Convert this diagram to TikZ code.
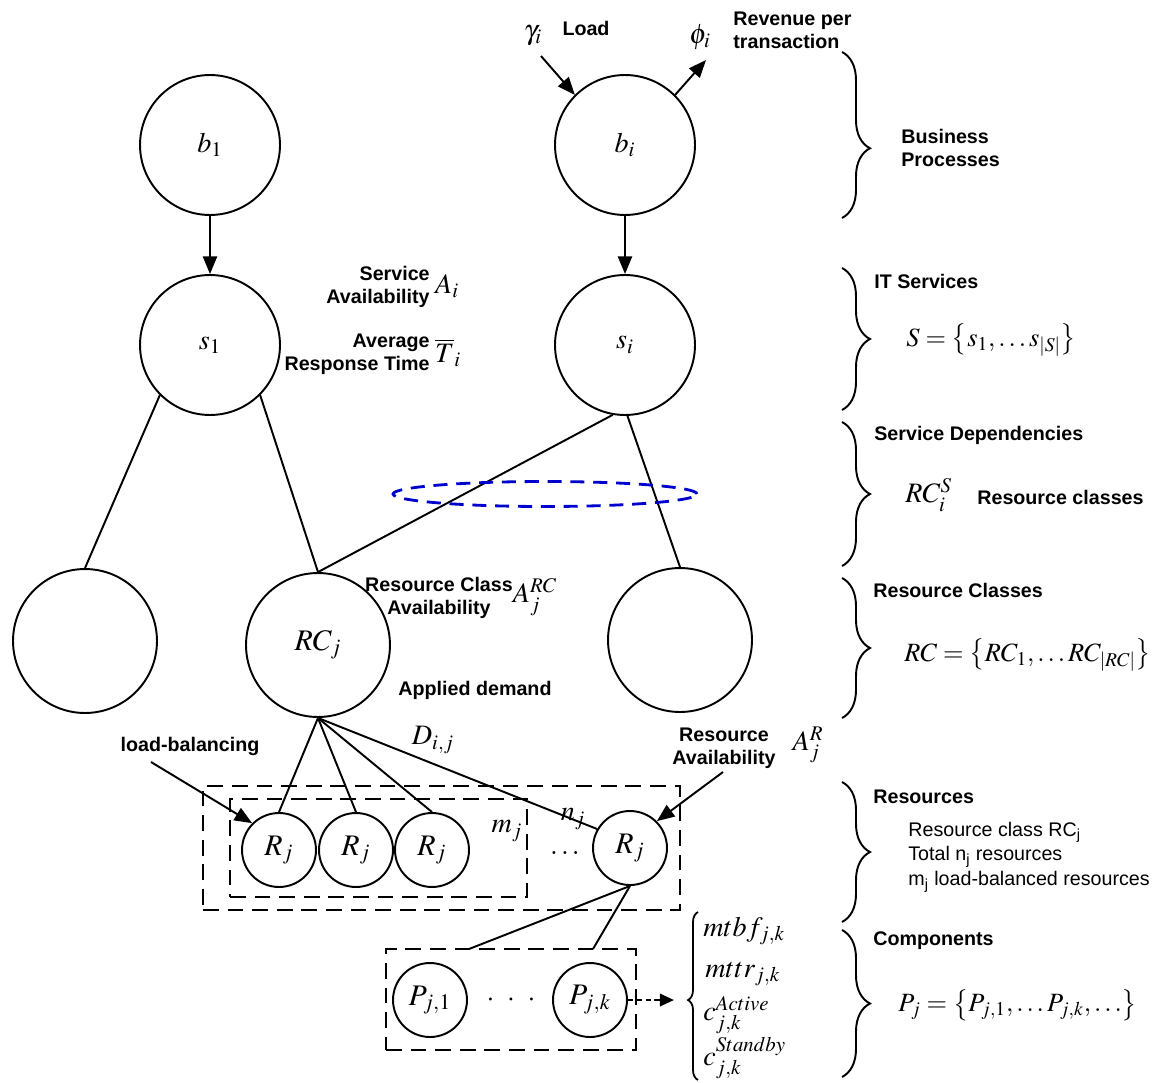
\documentclass[tikz,border=0pt]{standalone}
\usepackage{mathptmx}
\usepackage[no-math]{fontspec}
\setmainfont{Liberation Sans}
\usetikzlibrary{arrows.meta,decorations.pathreplacing,shapes.geometric}

\tikzset{
  every node/.style={inner sep=0pt},
  bigc/.style={circle,draw,line width=1.1pt,minimum size=2.8cm,font=\fontsize{16}{18}\selectfont},
  rcc/.style={circle,draw,line width=1.1pt,minimum size=2.88cm,font=\fontsize{17}{19}\selectfont},
  resc/.style={circle,draw,line width=1.1pt,minimum size=1.48cm,font=\fontsize{17}{19}\selectfont},
  link/.style={line width=1.1pt},
  arr/.style={line width=1.1pt,-{Triangle[length=10pt,width=8pt]}},
  dotarr/.style={line width=1.4pt,dash pattern=on 3pt off 2pt,-{Triangle[length=8pt,width=7pt]}},
  dbox/.style={draw,rectangle,line width=1.5pt,dash pattern=on 9pt off 5pt},
  lbl/.style={font=\fontsize{11.2}{13}\selectfont\bfseries},
  plain/.style={font=\fontsize{11.2}{14}\selectfont},
  mth/.style={font=\fontsize{16}{18}\selectfont},
  setm/.style={font=\fontsize{15}{17}\selectfont},
  brc/.style={decorate,decoration={brace,amplitude=0.56cm,aspect=#1},line width=1.1pt},
  brc/.default=0.5,
  smallbrc/.style={decorate,decoration={brace,amplitude=0.2cm,aspect=0.476},line width=1pt},
  grp/.style={ellipse,draw=blue!80!black,line width=1.6pt,dash pattern=on 8pt off 5pt,minimum width=6.08cm,minimum height=0.5cm}
}

\begin{document}
\begin{tikzpicture}[x=0.02cm,y=-0.02cm]
\useasboundingbox (0,0) rectangle (1163,1082);

% business processes and services
\node[bigc] (b1) at (210,145) {$b_1$};
\node[bigc] (bi) at (625,145) {$b_i$};
\node[bigc] (s1) at (210,345) {$s_1$};
\node[bigc] (si) at (625,345) {$s_i$};
\draw[arr] (b1) -- (s1);
\draw[arr] (bi) -- (si);

% load and revenue
\node[mth] (gam) at (533,36) {$\gamma_i$};
\node[lbl] (load) at (586,28) {Load};
\node[mth] (phi) at (700,37) {$\phi_i$};
\node[lbl,anchor=west,align=left] (rev) at (733,30) {Revenue per\\transaction};
\coordinate (gtail) at (541,56);
\coordinate (phead) at (706,60);
\draw[arr] (gtail) -- (bi.135);
\draw[arr] (bi.45) -- (phead);

% service metrics
\node[lbl,anchor=east,align=right] (svcav) at (430,287) {Service\\Availability};
\node[mth] (ai) at (447,286) {$A_i$};
\node[lbl,anchor=east,align=right] (avgrt) at (430,354) {Average\\Response Time};
\node[mth] (ti) at (448,353) {$\overline{T}_i$};

% resource classes
\node[rcc] (lrc) at (85,641) {};
\node[rcc] (rcj) at (318,645) {$RC_j$};
\node[rcc] (rrc) at (680,640) {};
\draw[link] (s1.225) -- (lrc.north);
\draw[link] (s1.315) -- (rcj.north);
\draw[link] (si.260) -- (rcj.north);
\draw[link] (si.272) -- (rrc.north);
\node[grp] (dep) at (545,494) {};

\node[lbl,align=center] (rcav) at (439,598) {Resource Class\\Availability};
\node[mth] (arc) at (535,597) {$A_j^{RC}$};
\node[lbl] (demand) at (475,690) {Applied demand};

% resources
\node[dbox,minimum width=9.54cm,minimum height=2.48cm] (nbox) at (441.5,848) {};
\node[dbox,minimum width=5.94cm,minimum height=1.96cm] (mbox) at (378.5,848) {};
\node[resc] (r1) at (279,850) {$R_j$};
\node[resc] (r2) at (356,850) {$R_j$};
\node[resc] (r3) at (432,850) {$R_j$};
\node[resc] (r4) at (630,848) {$R_j$};
\node[mth] (rdots) at (565,853) {$\ldots$};
\draw[link] (rcj.south) -- (r1.north);
\draw[link] (rcj.south) -- (r2.north);
\draw[link] (rcj.south) -- (r3.north);
\draw[link] (rcj.south) -- (r4.150);
\node[mth] (dij) at (433,740) {$D_{i,j}$};
\node[mth] (mj) at (507,831) {$m_j$};
\node[mth] (nj) at (573,819) {$n_j$};

\node[lbl] (lb) at (190,746) {load-balancing};
\coordinate (lbt) at (151,762);
\draw[arr] (lbt) -- (r1.135);
\node[lbl,align=center] (rav) at (724,748) {Resource\\Availability};
\node[mth] (ar) at (808,745) {$A_j^R$};
\coordinate (rat) at (723,772);
\draw[arr] (rat) -- (r4.45);

% components
\node[dbox,minimum width=5cm,minimum height=2.02cm] (pbox) at (511,999.5) {};
\node[resc] (p1) at (430,1000) {$P_{j,1}$};
\node[resc] (pk) at (590,1000) {$P_{j,k}$};
\node[mth] (pdots) at (511,1000) {$\cdot\hspace{5pt}\cdot\hspace{5pt}\cdot$};
\coordinate (pa) at (469,949);
\coordinate (pb) at (593,949);
\draw[link] (r4.south) -- (pa);
\draw[link] (r4.south) -- (pb);
\coordinate (ptip) at (674,1000);
\draw[dotarr] (pk.east) -- (ptip);

\draw[smallbrc] (698,1080) -- (698,912);
\node[mth,anchor=west] (mtbf) at (703,931) {$mtbf_{j,k}$};
\node[mth,anchor=west] (mttr) at (705,974) {$mttr_{j,k}$};
\node[mth,anchor=west] (cact) at (703,1015) {$c^{Active}_{j,k}$};
\node[mth,anchor=west] (csb) at (703,1058) {$c^{Standby}_{j,k}$};

% layer braces
\draw[brc=0.58] (842,52) -- (842,218);
\draw[brc] (842,268) -- (842,410);
\draw[brc] (842,422) -- (842,566);
\draw[brc] (842,578) -- (842,718);
\draw[brc] (842,782) -- (842,922);
\draw[brc] (842,930) -- (842,1077);

\node[lbl,anchor=west,align=left] (bp) at (901,148) {Business\\Processes};
\node[lbl,anchor=west] (its) at (874,281) {IT Services};
\node[setm,anchor=west] (sset) at (906,340) {$S=\left\{s_1,\ldots s_{|S|}\right\}$};
\node[lbl,anchor=west] (sdep) at (874,435) {Service Dependencies};
\node[mth,anchor=west] (rcs) at (905,495) {$RC_i^S$};
\node[lbl,anchor=west] (rclass) at (977,497) {Resource classes};
\node[lbl,anchor=west] (rcl) at (873,590) {Resource Classes};
\node[setm,anchor=west] (rcset) at (904,655) {$RC=\left\{RC_1,\ldots RC_{|RC|}\right\}$};
\node[lbl,anchor=west] (res) at (873,797) {Resources};
\node[plain,anchor=west,align=left] (resd) at (908,857) {Resource class RC\textsubscript{j}\\Total n\textsubscript{j} resources\\m\textsubscript{j} load-balanced resources};
\node[lbl,anchor=west] (comp) at (873,941) {Components};
\node[setm,anchor=west] (pset) at (898,1005) {$P_j=\left\{P_{j,1},\ldots P_{j,k},\ldots\right\}$};
\end{tikzpicture}
\end{document}
